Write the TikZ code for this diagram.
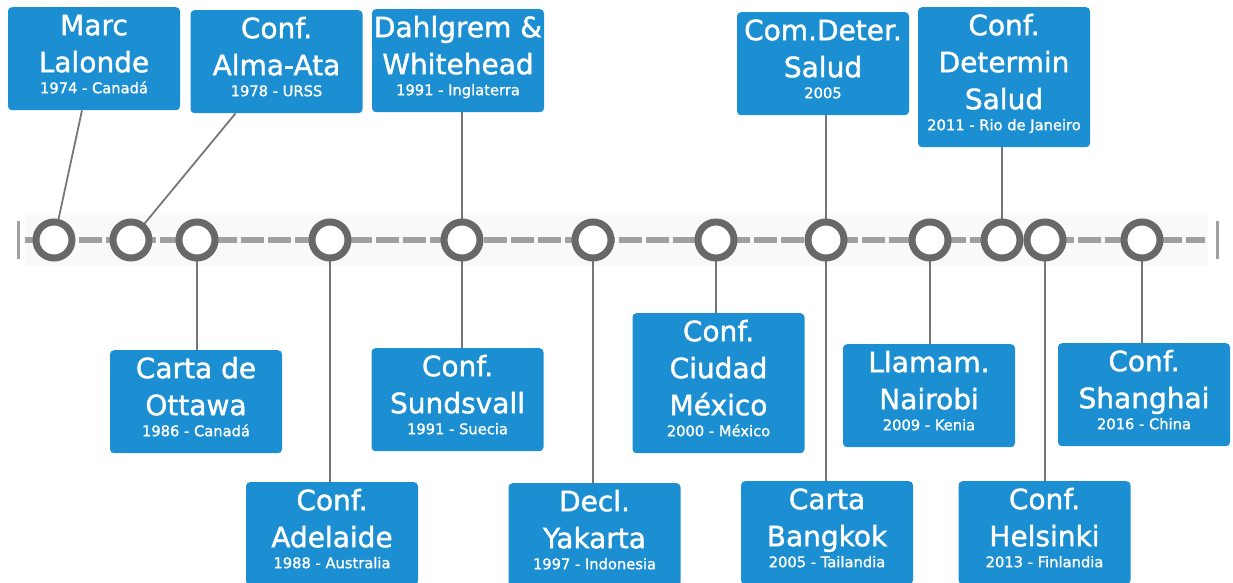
\documentclass[tikz,border=0pt]{standalone}
\usepackage{fontspec}
\setmainfont{DejaVu Sans}
\newfontfamily\evtitlefam[FakeBold=1.4]{DejaVu Sans}
\newfontfamily\evsubfam[FakeBold=1.3]{DejaVu Sans}
\pgfdeclarelayer{background}
\pgfsetlayers{background,main}

\definecolor{boxblue}{RGB}{27,143,210}
\definecolor{ringgray}{RGB}{104,104,104}
\definecolor{linegray}{RGB}{118,118,118}
\definecolor{dashgray}{RGB}{160,160,160}
\definecolor{bandgray}{RGB}{249,249,249}

\newcommand\evtitlefont{\evtitlefam\fontsize{28}{37}\selectfont}
\newcommand\evsubfont{\evsubfam\fontsize{14.7}{21}\selectfont}
% title lines, then the year/place line
\newcommand\evtext[2]{\parindent=0pt\rule{0pt}{22pt}#1\par{\evsubfont #2\rule[-11pt]{0pt}{11pt}\par}}

\tikzset{
  evbox/.style={fill=boxblue, rounded corners=4pt, text=white, anchor=north,
    text width=172pt, inner xsep=0pt, inner ysep=6pt, align=flush center,
    font=\evtitlefont},
  evdot/.style={circle, draw=ringgray, line width=7pt, fill=white,
    minimum size=36pt, inner sep=0pt},
  conn/.style={draw=linegray, line width=1.8pt},
  axis/.style={draw=dashgray, line width=6.5pt, dash pattern=on 23pt off 4pt},
  endbar/.style={draw=dashgray, line width=3pt}
}

\begin{document}
\begin{tikzpicture}[x=1pt,y=-1pt]
\useasboundingbox (0,0) rectangle (1233,583);

% timeline markers
\foreach \n/\x in {1/54,2/131,3/197,4/330,5/462,6/593,7/716,8/826,9/930,10/1002,11/1045,12/1142}
  \node[evdot] (c\n) at (\x,240) {};

% event boxes above the line
\node[evbox] (marc)  at (94,7)    {\evtext{Marc\\Lalonde}{1974 - Canadá}};
\node[evbox] (alma)  at (276.5,10){\evtext{Conf.\\Alma-Ata}{1978 - URSS}};
\node[evbox] (dahl)  at (458,9)   {\evtext{Dahlgrem \&\\Whitehead}{1991 - Inglaterra}};
\node[evbox] (comd)  at (823,12)  {\evtext{Com.Deter.\\Salud}{2005}};
\node[evbox] (detm)  at (1004,7)  {\evtext{Conf.\\Determin\\Salud}{2011 - Rio de Janeiro}};

% event boxes below the line
\node[evbox] (otta)  at (196,350) {\evtext{Carta de\\Ottawa}{1986 - Canadá}};
\node[evbox] (adel)  at (332,482) {\evtext{Conf.\\Adelaide}{1988 - Australia}};
\node[evbox] (sund)  at (457.5,348){\evtext{Conf.\\Sundsvall}{1991 - Suecia}};
\node[evbox] (yaka)  at (594.5,483){\evtext{Decl.\\Yakarta}{1997 - Indonesia}};
\node[evbox] (mexi)  at (718.5,313){\evtext{Conf.\\Ciudad\\México}{2000 - México}};
\node[evbox] (bang)  at (827,481) {\evtext{Carta\\Bangkok}{2005 - Tailandia}};
\node[evbox] (nair)  at (929,344) {\evtext{Llamam.\\Nairobi}{2009 - Kenia}};
\node[evbox] (hels)  at (1044.5,481){\evtext{Conf.\\Helsinki}{2013 - Finlandia}};
\node[evbox] (shan)  at (1144,343){\evtext{Conf.\\Shanghai}{2016 - China}};

\begin{pgfonlayer}{background}
  % faint band and dashed axis
  \fill[bandgray] (25,215) rectangle (1208,266);
  \coordinate (axl) at (25,240);
  \coordinate (axr) at (1205,240);
  \draw[axis] (axl) -- (axr);
  \coordinate (barl) at (18,240);
  \coordinate (barr) at (1217,240);
  \draw[endbar] ([yshift=-19pt]barl) -- ([yshift=19pt]barl);
  \draw[endbar] ([yshift=-19pt]barr) -- ([yshift=19pt]barr);

  % connectors
  \draw[conn] ([xshift=-12pt]marc.south) -- (c1.center);
  \draw[conn] ([xshift=-41pt]alma.south) -- (c2.center);
  \draw[conn] (c5.center) -- (c5 |- dahl.south);
  \draw[conn] (c8.center) -- (c8 |- comd.south);
  \draw[conn] (c10.center) -- (c10 |- detm.south);
  \draw[conn] (c3.center) -- (c3 |- otta.north);
  \draw[conn] (c4.center) -- (c4 |- adel.north);
  \draw[conn] (c5.center) -- (c5 |- sund.north);
  \draw[conn] (c6.center) -- (c6 |- yaka.north);
  \draw[conn] (c7.center) -- (c7 |- mexi.north);
  \draw[conn] (c8.center) -- (c8 |- bang.north);
  \draw[conn] (c9.center) -- (c9 |- nair.north);
  \draw[conn] (c11.center) -- (c11 |- hels.north);
  \draw[conn] (c12.center) -- (c12 |- shan.north);
\end{pgfonlayer}
\end{tikzpicture}
\end{document}
